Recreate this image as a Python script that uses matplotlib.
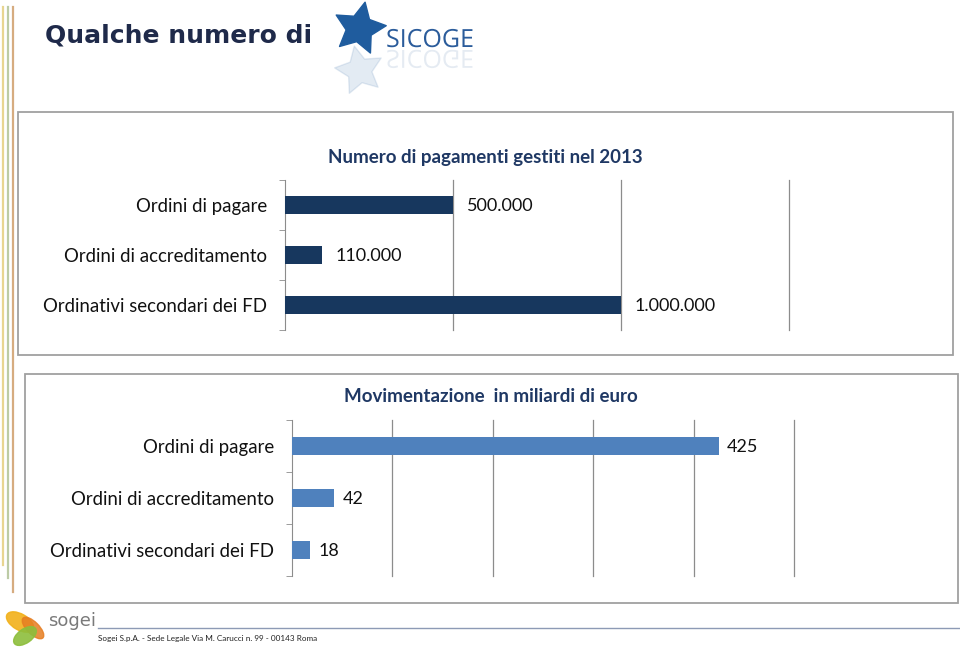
import matplotlib
matplotlib.use('Agg')

import matplotlib.pyplot as plt
from matplotlib.patches import Rectangle, Ellipse, PathPatch
from matplotlib.textpath import TextPath
from matplotlib.font_manager import FontProperties
from matplotlib.transforms import Affine2D
import numpy as np

W, H = 960, 647

categorie = ['Ordini di pagare', 'Ordini di accreditamento', 'Ordinativi secondari dei FD']
pagamenti = [500000, 110000, 1000000]
pagamenti_etichette = ['500.000', '110.000', '1.000.000']
miliardi = [425, 42, 18]
miliardi_etichette = ['425', '42', '18']

titolo = 'Qualche numero di'
titolo_top = 'Numero di pagamenti gestiti nel 2013'
titolo_bottom = 'Movimentazione  in miliardi di euro'
piede = 'Sogei S.p.A. - Sede Legale Via M. Carucci n. 99 - 00143 Roma'

FONT = 'Lato'
NAVY = '#1F3864'
GRID = '#8c8c8c'


def px(x0, y0, x1, y1):
    # pixel box (top-left origin) -> figure fraction rect
    return [x0 / W, 1 - y1 / H, (x1 - x0) / W, (y1 - y0) / H]


def barChart(rect, values, labels, xmax, step, color, offset):
    ax = fig.add_axes(px(*rect))
    y = np.arange(len(values))
    ax.barh(y, values, height=0.36, color=color, zorder=3)
    ax.set_xlim(0, xmax)
    ax.set_ylim(len(values) - 0.5, -0.5)
    ax.set_xticks(np.arange(step, xmax + 1, step))
    ax.xaxis.grid(True, color=GRID, linewidth=0.9)
    for gl in ax.get_xgridlines():
        gl.set_clip_on(False)
    ax.tick_params(axis='x', length=0, labelbottom=False)
    ax.set_yticks(y)
    ax.set_yticklabels(categorie, fontsize=13.4, fontfamily=FONT, color='#111111')
    ax.tick_params(axis='y', which='major', length=0, pad=13)
    ax.set_yticks(np.arange(-0.5, len(values)), minor=True)
    ax.tick_params(axis='y', which='minor', length=4, color=GRID, direction='out')
    for s in ['top', 'right', 'bottom']:
        ax.spines[s].set_visible(False)
    ax.spines['left'].set_color(GRID)
    ax.patch.set_alpha(0)
    for yi, v, t in zip(y, values, labels):
        ax.annotate(t, (v, yi), xytext=(offset, -1), textcoords='offset points',
                    va='center', ha='left', fontsize=13, fontfamily=FONT, color='#111111')
    return ax


fig = plt.figure(figsize=(W / 100, H / 100), dpi=100)
fig.patch.set_facecolor('white')

bg = fig.add_axes([0, 0, 1, 1])
bg.set_xlim(0, W)
bg.set_ylim(H, 0)
bg.axis('off')

# left decorative stripes
bg.plot([3, 3], [7, 565], color='#E8D590', lw=1.6)
bg.plot([8, 8], [7, 578], color='#BCCBA5', lw=1.6)
bg.plot([13, 13], [7, 592], color='#D6AC80', lw=1.6)

# title
bg.text(45, 35, titolo, fontsize=18, fontweight='bold', family='DejaVu Sans',
        color='#1F2A4A', va='center', ha='left')

# SICOGE logo
bg.scatter([359], [28], marker=(5, 1, -12), s=1500, color='#1F5C9E', zorder=3)
bg.scatter([359], [70], marker=(5, 1, 12), s=1300, color='#1F5C9E', alpha=0.12, zorder=3)
prop = FontProperties(family='Open Sans', weight='normal')
tp = TextPath((0, 0), 'SICOGE', size=25, prop=prop)
bg.add_patch(PathPatch(tp, transform=Affine2D().scale(1, -1).translate(386, 47) + bg.transData,
                       color='#2B5C9B', lw=0))
bg.add_patch(PathPatch(tp, transform=Affine2D().translate(386, 50) + bg.transData,
                       color='#2B5C9B', alpha=0.12, lw=0))

# chart frames
bg.add_patch(Rectangle((18, 112), 935, 243, fill=False, ec='#a0a0a0', lw=1.3))
bg.add_patch(Rectangle((25, 374), 933, 229, fill=False, ec='#a0a0a0', lw=1.3))

bg.text(485, 157, titolo_top, fontsize=13.5, fontweight='bold', family=FONT,
        color=NAVY, ha='center', va='center')
bg.text(491, 396, titolo_bottom, fontsize=13.5, fontweight='bold', family=FONT,
        color=NAVY, ha='center', va='center')

barChart((285, 180, 789, 330), pagamenti, pagamenti_etichette, 1500000, 500000, '#17375E', 10)
barChart((292, 420, 794, 576), miliardi, miliardi_etichette, 500, 100, '#4F81BD', 6)

# footer
bg.add_patch(Ellipse((20, 622), 30, 16, angle=30, color='#F2B11A', alpha=0.9))
bg.add_patch(Ellipse((33, 628), 28, 12, angle=45, color='#E67E22', alpha=0.85))
bg.add_patch(Ellipse((25, 636), 26, 14, angle=-35, color='#8DBE3C', alpha=0.9))
bg.text(48, 621, 'sogei', fontsize=13, family='DejaVu Sans',
        color='#7a7a7a', va='center', ha='left')
bg.plot([98, 960], [628, 628], color='#8D9AB5', lw=1)
bg.text(98, 638, piede, fontsize=5.9, family=FONT, color='#222222', va='center', ha='left')

fig.savefig('out.png', dpi=100)
